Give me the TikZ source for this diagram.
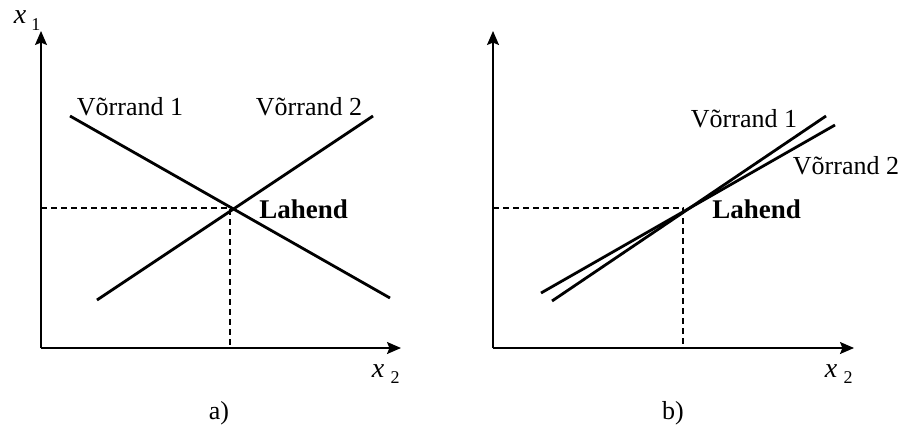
\documentclass[tikz,border=0pt]{standalone}
\usepackage{fontspec}
\setmainfont{Liberation Serif}
\usetikzlibrary{arrows.meta}
\begin{document}
\begin{tikzpicture}[x=0.5pt,y=-0.5pt,
  axis/.style={line width=0.75pt,-{Stealth[length=7pt,width=6pt,inset=1.2pt]}},
  curve/.style={line width=1.4pt},
  guide/.style={line width=0.7pt,dash pattern=on 3pt off 2pt},
  lbl/.style={font=\fontsize{13}{15}\selectfont,anchor=base,inner sep=0pt},
  sol/.style={font=\fontsize{13.5}{15}\selectfont\bfseries,anchor=base west,inner sep=0pt},
  axlbl/.style={font=\fontsize{14}{16}\selectfont\itshape,anchor=base,inner sep=0pt},
  axsub/.style={font=\fontsize{9}{10}\selectfont,anchor=base,inner sep=0pt}]
\useasboundingbox (0,0) rectangle (903,428);
% ---------- panel a ----------
\coordinate (Ao) at (41,348);
\coordinate (Ay) at (41,31);
\coordinate (Ax) at (401,348);
\coordinate (Ai) at (230,208);
\coordinate (A1s) at (70,116);
\coordinate (A1e) at (390,298);
\coordinate (A2s) at (97,300);
\coordinate (A2e) at (373,116);
\draw[axis] (Ao) -- (Ay);
\draw[axis] (Ao) -- (Ax);
\draw[guide] (Ai -| Ao) -- (Ai) -- (Ai |- Ao);
\draw[curve] (A1s) -- (A1e);
\draw[curve] (A2s) -- (A2e);
\node[axlbl] (ax1) at (20,23) {x};
\node[axsub] (ax1s) at (36,30) {1};
\node[axlbl] (ax2) at (378,377) {x};
\node[axsub] (ax2s) at (395,383) {2};
\node[lbl] (av1) at (130,115) {Võrrand 1};
\node[lbl] (av2) at (309,115) {Võrrand 2};
\node[sol] (asol) at (259,218) {Lahend};
\node[lbl] (acap) at (219,419) {a)};
% ---------- panel b ----------
\coordinate (Bo) at (493,348);
\coordinate (By) at (493,31);
\coordinate (Bx) at (854,348);
\coordinate (Bi) at (683,208);
\coordinate (B1s) at (552,301);
\coordinate (B1e) at (826,116);
\coordinate (B2s) at (541,293);
\coordinate (B2e) at (835,125);
\draw[axis] (Bo) -- (By);
\draw[axis] (Bo) -- (Bx);
\draw[guide] (Bi -| Bo) -- (Bi) -- (Bi |- Bo);
\draw[curve] (B1s) -- (B1e);
\draw[curve] (B2s) -- (B2e);
\node[axlbl] (bx2) at (831,377) {x};
\node[axsub] (bx2s) at (848,383) {2};
\node[lbl] (bv1) at (744,127) {Võrrand 1};
\node[lbl] (bv2) at (846,174) {Võrrand 2};
\node[sol] (bsol) at (712,218) {Lahend};
\node[lbl] (bcap) at (673,419) {b)};
\end{tikzpicture}
\end{document}
